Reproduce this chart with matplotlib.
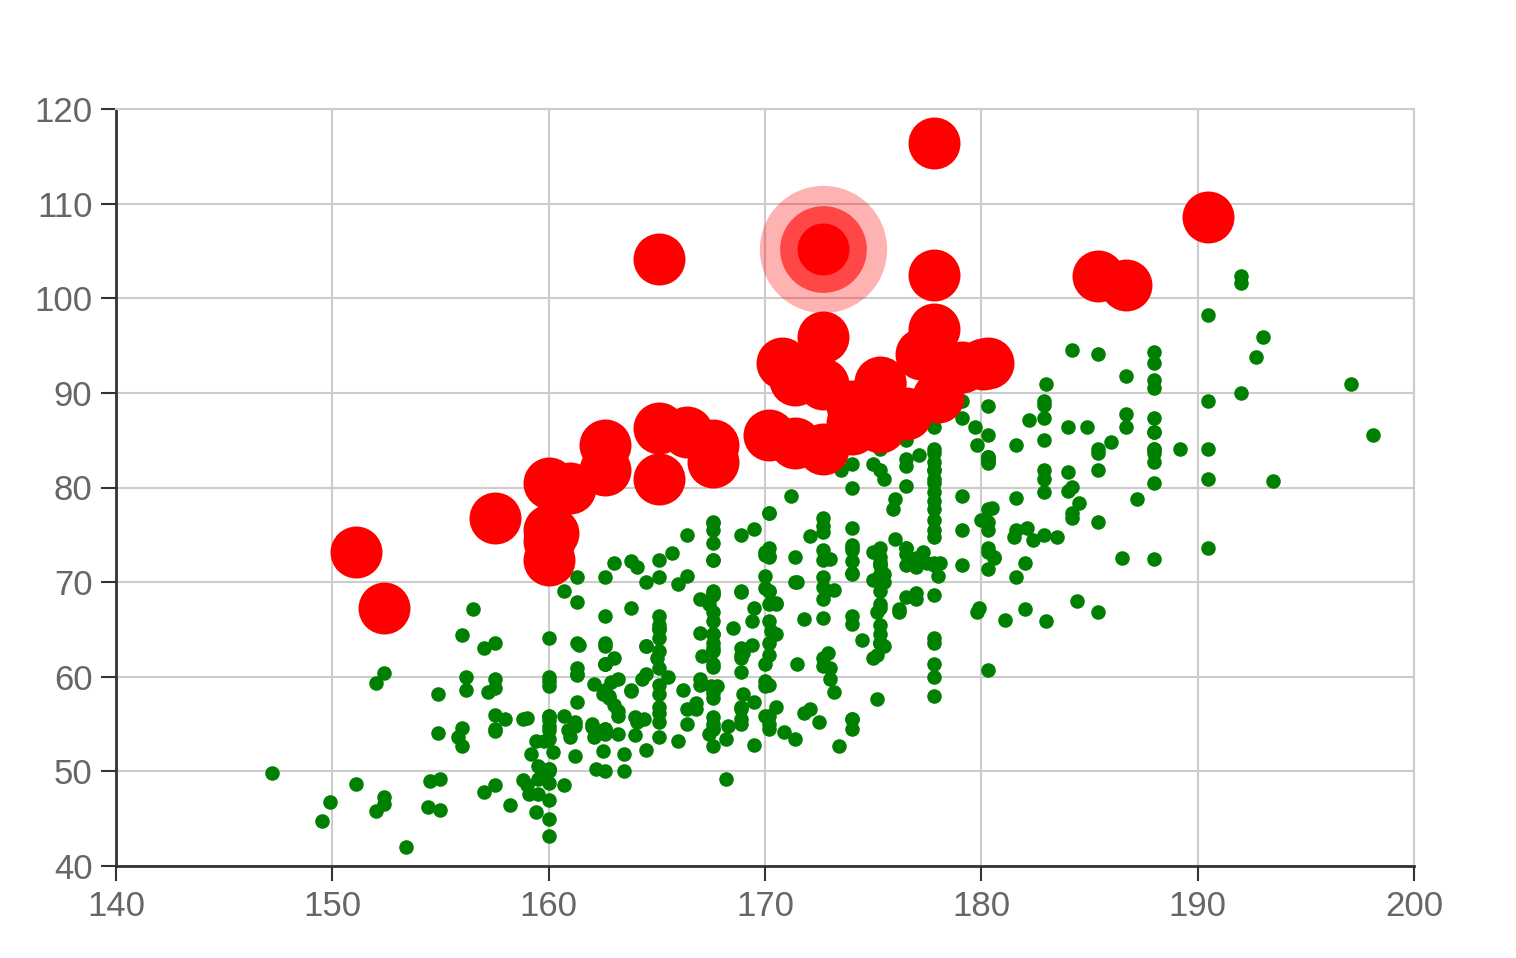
import matplotlib.pyplot as plt
import numpy as np

# height (cm), weight (kg)
female = [
    [161.2, 51.6], [167.5, 59.0], [159.5, 49.2], [157.0, 63.0], [155.8, 53.6], [170.0, 59.0], [159.1, 47.6],
    [166.0, 69.8], [176.2, 66.8], [160.2, 75.2], [172.5, 55.2], [170.9, 54.2], [172.9, 62.5], [153.4, 42.0],
    [160.0, 50.0], [147.2, 49.8], [168.2, 49.2], [175.0, 73.2], [157.0, 47.8], [167.6, 68.8], [159.5, 50.6],
    [175.0, 82.5], [166.8, 57.2], [176.5, 87.8], [170.2, 72.8], [174.0, 54.5], [173.0, 59.8], [179.9, 67.3],
    [170.5, 67.8], [160.0, 47.0], [154.4, 46.2], [162.0, 55.0], [176.5, 83.0], [160.0, 54.4], [152.0, 45.8],
    [162.1, 53.6], [170.0, 73.2], [160.2, 52.1], [161.3, 67.9], [166.4, 56.6], [168.9, 62.3], [163.8, 58.5],
    [167.6, 54.5], [160.0, 50.2], [161.3, 60.3], [167.6, 58.3], [165.1, 56.2], [160.0, 50.2], [170.0, 72.9],
    [157.5, 59.8], [167.6, 61.0], [160.7, 69.1], [163.2, 55.9], [152.4, 46.5], [157.5, 54.3], [168.3, 54.8],
    [180.3, 60.7], [165.5, 60.0], [165.0, 62.0], [164.5, 60.3], [156.0, 52.7], [160.0, 74.3], [163.0, 62.0],
    [165.7, 73.1], [161.0, 80.0], [162.0, 54.7], [166.0, 53.2], [174.0, 75.7], [172.7, 61.1], [167.6, 55.7],
    [151.1, 48.7], [164.5, 52.3], [163.5, 50.0], [152.0, 59.3], [169.0, 62.5], [164.0, 55.7], [161.2, 54.8],
    [155.0, 45.9], [170.0, 70.6], [176.2, 67.2], [170.0, 69.4], [162.5, 58.2], [170.3, 64.8], [164.1, 71.6],
    [169.5, 52.8], [163.2, 59.8], [154.5, 49.0], [159.8, 50.0], [173.2, 69.2], [170.0, 55.9], [161.4, 63.4],
    [169.0, 58.2], [166.2, 58.6], [159.4, 45.7], [162.5, 52.2], [159.0, 48.6], [162.8, 57.8], [159.0, 55.6],
    [179.8, 66.8], [162.9, 59.4], [161.0, 53.6], [151.1, 73.2], [168.2, 53.4], [168.9, 69.0], [173.2, 58.4],
    [171.8, 56.2], [178.0, 70.6], [164.3, 59.8], [163.0, 72.0], [168.5, 65.2], [166.8, 56.6], [172.7, 105.2],
    [163.5, 51.8], [169.4, 63.4], [167.8, 59.0], [159.5, 47.6], [167.6, 63.0], [161.2, 55.2], [160.0, 45.0],
    [163.2, 54.0], [162.2, 50.2], [161.3, 60.2], [149.5, 44.8], [157.5, 58.8], [163.2, 56.4], [172.7, 62.0],
    [155.0, 49.2], [156.5, 67.2], [164.0, 53.8], [160.9, 54.4], [162.8, 58.0], [167.0, 59.8], [160.0, 54.8],
    [160.0, 43.2], [168.9, 60.5], [158.2, 46.4], [156.0, 64.4], [160.0, 48.8], [167.1, 62.2], [158.0, 55.5],
    [167.6, 57.8], [156.0, 54.6], [162.1, 59.2], [173.4, 52.7], [159.8, 53.2], [170.5, 64.5], [159.2, 51.8],
    [157.5, 56.0], [161.3, 63.6], [162.6, 63.2], [160.0, 59.5], [168.9, 56.8], [165.1, 64.1], [162.6, 50.0],
    [165.1, 72.3], [166.4, 55.0], [160.0, 55.9], [152.4, 60.4], [170.2, 69.1], [162.6, 84.5], [170.2, 55.9],
    [158.8, 55.5], [172.7, 69.5], [167.6, 76.4], [162.6, 61.4], [167.6, 65.9], [156.2, 58.6], [175.2, 66.8],
    [172.1, 56.6], [162.6, 58.6], [160.0, 55.9], [165.1, 59.1], [182.9, 81.8], [166.4, 70.7], [165.1, 56.8],
    [177.8, 60.0], [165.1, 58.2], [175.3, 72.7], [154.9, 54.1], [158.8, 49.1], [172.7, 75.9], [168.9, 55.0],
    [161.3, 57.3], [167.6, 55.0], [165.1, 65.5], [175.3, 65.5], [157.5, 48.6], [163.8, 58.6], [167.6, 63.6],
    [165.1, 55.2], [165.1, 62.7], [168.9, 56.6], [162.6, 53.9], [164.5, 63.2], [176.5, 73.6], [168.9, 62.0],
    [175.3, 63.6], [159.4, 53.2], [160.0, 53.4], [170.2, 55.0], [162.6, 70.5], [167.6, 54.5], [162.6, 54.5],
    [160.7, 55.9], [160.0, 59.0], [157.5, 63.6], [162.6, 54.5], [152.4, 47.3], [170.2, 67.7], [165.1, 80.9],
    [172.7, 70.5], [165.1, 60.9], [170.2, 63.6], [170.2, 54.5], [170.2, 59.1], [161.3, 70.5], [167.6, 52.7],
    [167.6, 62.7], [165.1, 86.3], [162.6, 66.4], [152.4, 67.3], [168.9, 63.0], [170.2, 73.6], [175.2, 62.3],
    [175.2, 57.7], [160.0, 55.4], [165.1, 104.1], [174.0, 55.5], [170.2, 77.3], [160.0, 80.5], [167.6, 64.5],
    [167.6, 72.3], [167.6, 61.4], [154.9, 58.2], [162.6, 81.8], [175.3, 63.6], [171.4, 53.4], [157.5, 54.5],
    [165.1, 53.6], [160.0, 60.0], [174.0, 73.6], [162.6, 61.4], [174.0, 55.5], [162.6, 63.6], [161.3, 60.9],
    [156.2, 60.0], [149.9, 46.8], [169.5, 57.3], [160.0, 64.1], [175.3, 63.6], [169.5, 67.3], [160.0, 75.5],
    [172.7, 68.2], [162.6, 61.4], [157.5, 76.8], [176.5, 71.8], [164.4, 55.5], [160.7, 48.6], [174.0, 66.4],
    [163.8, 67.3],
]

male = [
    [174.0, 65.6], [175.3, 71.8], [193.5, 80.7], [186.5, 72.6], [187.2, 78.8], [181.5, 74.8], [184.0, 86.4],
    [184.5, 78.4], [175.0, 62.0], [184.0, 81.6], [180.0, 76.6], [177.8, 83.6], [192.0, 90.0], [176.0, 74.6],
    [174.0, 71.0], [184.0, 79.6], [192.7, 93.8], [171.5, 70.0], [173.0, 72.4], [176.0, 85.9], [176.0, 78.8],
    [180.5, 77.8], [172.7, 66.2], [176.0, 86.4], [173.5, 81.8], [178.0, 89.6], [180.3, 82.8], [180.3, 76.4],
    [164.5, 63.2], [173.0, 60.9], [183.5, 74.8], [175.5, 70.0], [188.0, 72.4], [189.2, 84.1], [172.8, 69.1],
    [170.0, 59.5], [182.0, 67.2], [170.0, 61.3], [177.8, 68.6], [184.2, 80.1], [186.7, 87.8], [171.4, 84.7],
    [172.7, 73.4], [175.3, 72.1], [180.3, 82.6], [182.9, 88.7], [188.0, 84.1], [177.2, 94.1], [172.1, 74.9],
    [167.0, 59.1], [169.5, 75.6], [174.0, 86.2], [172.7, 75.3], [182.2, 87.1], [164.1, 55.2], [163.0, 57.0],
    [171.5, 61.4], [184.2, 76.8], [174.0, 86.8], [174.0, 72.2], [177.0, 71.6], [186.0, 84.8], [167.0, 68.2],
    [171.8, 66.1], [182.0, 72.0], [167.0, 64.6], [177.8, 74.8], [164.5, 70.0], [192.0, 101.6], [175.5, 63.2],
    [171.2, 79.1], [181.6, 78.9], [167.4, 67.7], [181.1, 66.0], [177.0, 68.2], [174.5, 63.9], [177.5, 72.0],
    [170.5, 56.8], [182.4, 74.5], [197.1, 90.9], [180.1, 93.0], [175.5, 80.9], [180.6, 72.7], [184.4, 68.0],
    [175.5, 70.9], [180.6, 72.5], [177.0, 72.5], [177.1, 83.4], [181.6, 75.5], [176.5, 73.0], [175.0, 70.2],
    [174.0, 73.4], [165.1, 70.5], [177.0, 68.9], [192.0, 102.3], [176.5, 68.4], [169.4, 65.9], [182.1, 75.7],
    [179.8, 84.5], [175.3, 87.7], [184.9, 86.4], [177.3, 73.2], [167.4, 53.9], [178.1, 72.0], [168.9, 55.5],
    [157.2, 58.4], [180.3, 83.2], [170.2, 72.7], [177.8, 64.1], [172.7, 72.3], [165.1, 65.0], [186.7, 86.4],
    [165.1, 65.0], [174.0, 88.6], [175.3, 84.1], [185.4, 66.8], [177.8, 75.5], [180.3, 93.2], [180.3, 82.7],
    [177.8, 58.0], [177.8, 79.5], [177.8, 78.6], [177.8, 71.8], [177.8, 116.4], [163.8, 72.2], [188.0, 83.6],
    [198.1, 85.5], [175.3, 90.9], [166.4, 85.9], [190.5, 89.1], [166.4, 75.0], [177.8, 77.7], [179.7, 86.4],
    [172.7, 90.9], [190.5, 73.6], [185.4, 76.4], [168.9, 69.1], [167.6, 84.5], [175.3, 64.5], [170.2, 69.1],
    [190.5, 108.6], [177.8, 86.4], [190.5, 80.9], [177.8, 87.7], [184.2, 94.5], [176.5, 80.2], [177.8, 72.0],
    [180.3, 71.4], [171.4, 72.7], [172.7, 84.1], [172.7, 76.8], [177.8, 63.6], [177.8, 80.9], [182.9, 80.9],
    [170.2, 85.5], [167.6, 68.6], [175.3, 67.7], [165.1, 66.4], [185.4, 102.3], [181.6, 70.5], [172.7, 95.9],
    [190.5, 84.1], [179.1, 87.3], [175.3, 71.8], [170.2, 65.9], [193.0, 95.9], [171.4, 91.4], [177.8, 81.8],
    [177.8, 96.8], [167.6, 69.1], [167.6, 82.7], [180.3, 75.5], [182.9, 79.5], [176.5, 73.6], [186.7, 91.8],
    [188.0, 84.1], [188.0, 85.9], [177.8, 81.8], [174.0, 82.5], [177.8, 80.5], [171.4, 70.0], [185.4, 81.8],
    [185.4, 84.1], [188.0, 90.5], [188.0, 91.4], [182.9, 89.1], [176.5, 85.0], [175.3, 69.1], [175.3, 73.6],
    [188.0, 80.5], [188.0, 82.7], [175.3, 86.4], [170.5, 67.7], [179.1, 92.7], [177.8, 93.6], [175.3, 70.9],
    [182.9, 75.0], [170.8, 93.2], [188.0, 93.2], [180.3, 77.7], [177.8, 61.4], [185.4, 94.1], [168.9, 75.0],
    [185.4, 83.6], [180.3, 85.5], [174.0, 73.9], [167.6, 66.8], [182.9, 87.3], [160.0, 72.3], [180.3, 88.6],
    [167.6, 75.5], [186.7, 101.4], [175.3, 91.1], [175.3, 67.3], [175.9, 77.7], [175.3, 81.8], [179.1, 75.5],
    [181.6, 84.5], [177.8, 76.6], [182.9, 85.0], [177.8, 102.5], [184.2, 77.3], [179.1, 71.8], [176.5, 87.9],
    [188.0, 94.3], [174.0, 70.9], [167.6, 64.5], [170.2, 77.3], [167.6, 72.3], [188.0, 87.3], [174.0, 80.0],
    [176.5, 82.3], [180.3, 73.6], [167.6, 74.1], [188.0, 85.9], [180.3, 73.2], [167.6, 76.3], [183.0, 65.9],
    [183.0, 90.9], [179.1, 89.1], [170.2, 62.3], [177.8, 82.7], [179.1, 79.1], [190.5, 98.2], [177.8, 84.1],
    [180.3, 83.2], [180.3, 83.2],
]

highlight = [172.7, 105.2]
bmi_limit = 28

x_ticks = [140, 150, 160, 170, 180, 190, 200]
y_ticks = [40, 50, 60, 70, 80, 90, 100, 110, 120]

pts = np.array(female + male)
h, w = pts[:, 0], pts[:, 1]
# 超过 BMI 阈值的点画成红色大点
heavy = w / (h / 100) ** 2 >= bmi_limit

plt.rcParams['font.family'] = ['Liberation Sans', 'DejaVu Sans']

fig = plt.figure(figsize=(15.16, 9.58), dpi=100)
ax = fig.add_axes([116 / 1516, 92 / 958, 1298 / 1516, 757 / 958])

ax.scatter(h[~heavy], w[~heavy], s=110, color='#008000', linewidths=0, zorder=2)

# 高亮点的光晕
ax.scatter([highlight[0]], [highlight[1]], s=8400, color='#ff0000', alpha=0.3, linewidths=0, zorder=3)
ax.scatter([highlight[0]], [highlight[1]], s=3900, color='#ff0000', alpha=0.6, linewidths=0, zorder=3)

ax.scatter(h[heavy], w[heavy], s=1400, color='#ff0000', linewidths=0, zorder=4)

ax.set_xlim(x_ticks[0], x_ticks[-1])
ax.set_ylim(y_ticks[0], y_ticks[-1])
ax.set_xticks(x_ticks)
ax.set_yticks(y_ticks)

ax.grid(color='#cccccc', linewidth=1.5)
ax.set_axisbelow(True)
for side in ['top', 'right']:
    ax.spines[side].set_color('#cccccc')
    ax.spines[side].set_linewidth(1.5)
for side in ['left', 'bottom']:
    ax.spines[side].set_color('#333333')
    ax.spines[side].set_linewidth(2)

ax.tick_params(direction='out', length=11, width=1.5, color='#333333',
               labelcolor='#666666', labelsize=25, pad=6)

fig.savefig('out.png', dpi=100, facecolor='white')
